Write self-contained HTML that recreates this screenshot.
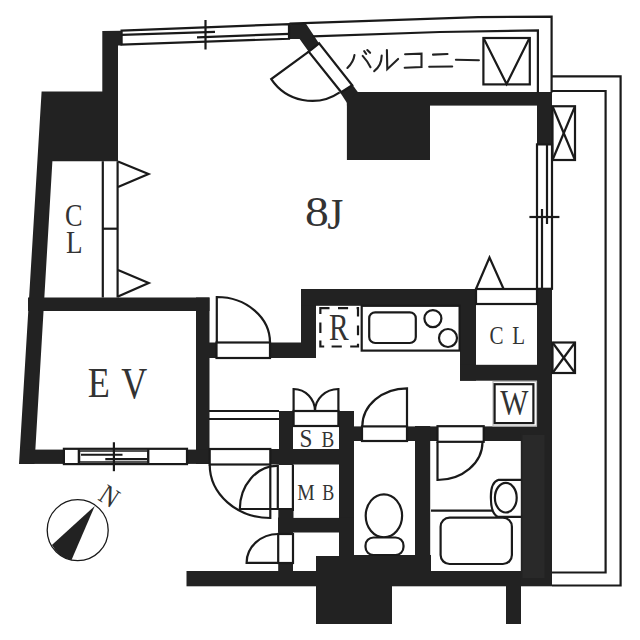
<!DOCTYPE html>
<html><head><meta charset="utf-8">
<style>
html,body{margin:0;padding:0;background:#fff;}
svg{display:block;}
text{font-family:"Liberation Serif",serif;fill:#333;}
</style></head>
<body>
<svg width="640" height="640" viewBox="0 0 640 640">
<rect x="0" y="0" width="640" height="640" fill="#fff"/>
<g fill="#222" stroke="none">
 <!-- top-left column and block -->
 <polygon points="102.3,31 121.6,30.7 121.6,45.4 118,45.4 118,161.2 52.39,161.2 34.5,463.9 19,463.9 41.6,91.4 102.3,91.4"/>
 <!-- closet bottom / EV top -->
 <rect x="28" y="297.5" width="181.5" height="13.5"/>
 <!-- EV right wall -->
 <rect x="196" y="297.5" width="13.5" height="166.5"/>
 <!-- EV bottom wall -->
 <rect x="25" y="449.6" width="184.7" height="14.3"/>
 <!-- kitchen bottom-left wall -->
 <rect x="209" y="342.5" width="107" height="15.5"/>
 <!-- kitchen left wall -->
 <rect x="301" y="289" width="15" height="69"/>
 <!-- kitchen top wall -->
 <rect x="301" y="289" width="175" height="16.8"/>
 <!-- closet left wall -->
 <rect x="460" y="289" width="16" height="91.7"/>
 <!-- closet bottom wall -->
 <rect x="460" y="364.8" width="92" height="15.9"/>
 <!-- right main wall -->
 <rect x="537" y="289" width="15" height="296"/>
 <!-- top wall -->
 <rect x="346.9" y="92" width="205.1" height="13.6"/>
 <rect x="346.9" y="92" width="83.1" height="68"/>
 <rect x="537" y="92.6" width="15" height="51.8"/>
 <!-- diagonal wall pieces -->
 <polygon points="289.1,24.2 305.5,23.1 319.1,43.4 308.75,51.7 299.6,38.9 289.1,38.9"/>
 <polygon points="340.3,92.8 351.9,84.1 357.8,92 347,103"/>
 <!-- toilet top wall -->
 <rect x="339" y="426.4" width="198" height="14.6"/>
 <!-- SB walls -->
 <rect x="279" y="411" width="14" height="54"/>
 <rect x="339" y="411" width="15" height="145"/>
 <rect x="270" y="449" width="84" height="15.5"/>
 <!-- MB bottom wall & piece below -->
 <rect x="278" y="517.9" width="76" height="14.6"/>
 <rect x="278.3" y="509.8" width="15.2" height="10"/>
 <rect x="278.2" y="517.5" width="14.8" height="54"/>
 <!-- bottom wall -->
 <rect x="186.5" y="571" width="365.5" height="15.3"/>
 <rect x="316" y="556" width="76" height="68"/>
 <rect x="339" y="555" width="92" height="16"/>
 <rect x="415" y="426" width="15.2" height="145"/>
 <rect x="506" y="585" width="15" height="39"/>
 <rect x="520.8" y="433" width="31.2" height="152.5"/>
 <rect x="522.5" y="435" width="22" height="143" fill="#292929"/>
</g>

<g fill="#fff" stroke="#1a1a1a" stroke-width="2.2">
 <!-- top window -->
 <polygon points="121.6,30.6 289,24.1 289,38.8 121.6,44.6" />
 <!-- EV window -->
 <rect x="63.9" y="448.8" width="123.1" height="15.3"/>
 <!-- door sills -->
 <rect x="216.5" y="342.5" width="53.5" height="15.5"/>
 <rect x="476" y="289" width="61" height="15"/>
 <rect x="293.6" y="411" width="44.8" height="15"/>
 <rect x="362" y="426.4" width="45" height="14.6"/>
 <rect x="437.5" y="426.2" width="46.2" height="15.6"/>
 <rect x="209.7" y="449" width="60.6" height="15.5"/>
 <rect x="278.2" y="534" width="14.8" height="29"/>
 <!-- diagonal sill -->
 <polygon points="308.75,51.7 319.1,43.4 352.2,85.3 341.25,92.3"/>
 <!-- right window -->
 <rect x="537" y="144.4" width="15" height="144.4"/>
</g>

<g fill="none" stroke="#1a1a1a" stroke-width="2.2">
 <!-- top window inner lines -->
 <line x1="121.6" y1="34.9" x2="215" y2="31.9"/>
 <line x1="197" y1="37.3" x2="289.5" y2="33.9"/>
 <line x1="205.5" y1="20" x2="205.5" y2="49.5"/>
 <!-- balcony lines -->
 <polyline points="289.5,23.6 478,17.2 551.6,16.6 551.6,92.6"/>
 <polyline points="312.5,36.3 440,32 537.9,30.4 537.9,92.6"/>
 <polyline points="551.6,76.3 620.6,76.3 620.6,585.5 552,585.5"/>
 <polyline points="551.6,91 605.6,91 605.6,572.5 552,572.5"/>
 <!-- AC unit -->
 <rect x="483.4" y="38" width="46.4" height="46.4"/>
 <polyline points="484,39 506.6,84 529,39"/>
 <!-- X boxes -->
 <rect x="552.5" y="106.25" width="22.5" height="53.75"/>
 <line x1="552.5" y1="106.25" x2="575" y2="160"/>
 <line x1="575" y1="106.25" x2="552.5" y2="160"/>
 <rect x="552.5" y="342.5" width="22.5" height="30.5"/>
 <line x1="552.5" y1="342.5" x2="575" y2="373"/>
 <line x1="575" y1="342.5" x2="552.5" y2="373"/>
 <!-- right window inner -->
 <line x1="547" y1="144.4" x2="547" y2="224"/>
 <line x1="542" y1="209" x2="542" y2="288.8"/>
 <line x1="529.4" y1="217" x2="559.4" y2="217"/>
 <!-- diagonal door -->
 <path d="M308.75,51.7 L271.25,79.06 A49,49 0 0 0 339.7,92.3"/>
 <!-- left closet -->
 <line x1="102.8" y1="161.2" x2="102.8" y2="297.5"/>
 <line x1="117.6" y1="161.2" x2="117.6" y2="297.5"/>
 <line x1="102.8" y1="228.7" x2="117.6" y2="228.7"/>
 <polyline points="118,161.5 148.5,174 118,187"/>
 <polyline points="118,270 148.7,283 118,296.5"/>
 <!-- door 8J -> corridor -->
 <path d="M216.8,343 L216.8,297 A53.2,45.5 0 0 1 270,342.5"/>
 <!-- EV window inner -->
 <line x1="78.8" y1="449" x2="78.8" y2="464.5"/>
 <line x1="148.3" y1="449" x2="148.3" y2="464.5"/>
 <rect x="79.5" y="451" width="68.5" height="11" stroke-width="1.5"/>
 <line x1="81" y1="454.75" x2="122.5" y2="454.75"/>
 <line x1="105.3" y1="459.1" x2="147.5" y2="459.1"/>
 <line x1="113.9" y1="442.25" x2="113.9" y2="471.2"/>
 <!-- closet triangle (right) -->
 <polyline points="476,289 489.5,257.5 503.6,289"/>
 <!-- corridor lines -->
 <line x1="209" y1="411" x2="279" y2="411"/>
 <line x1="209" y1="419" x2="279" y2="419"/>
 <!-- SB doors -->
 <path d="M293.6,411 L293.6,389 A21.4,22 0 0 1 315,411"/>
 <path d="M338.4,411 L338.4,389 A23.4,22 0 0 0 315,411"/>
 <!-- MB door -->
 <path d="M209.7,464.5 A60.6,53.5 0 0 0 270.3,518 L270.3,465"/>
 <path d="M277,465.8 A37.2,43.7 0 0 0 239.8,509 L292.8,509"/>
 <line x1="277.8" y1="464.5" x2="277.8" y2="509"/>
 <line x1="292.9" y1="464.5" x2="292.9" y2="511"/>
 <!-- bottom small door -->
 <path d="M278.2,534 A31.6,28.8 0 0 0 246.6,562.8 L278.2,562.8"/>
 <!-- toilet door -->
 <path d="M362.3,426.4 A44.7,38.1 0 0 1 407,388.3 L407,426.4"/>
 <!-- bath door -->
 <path d="M437.5,441.9 L437.5,480 A45,38.1 0 0 0 482.5,441.9"/>
 <!-- kitchen -->
 <path d="M320.35,314.1 V308.2 H329.5 M338,308.2 H348.1 M356.6,308.2 H358 V316.6 M358,325.4 V335.2 M358,343.7 V346.5 H350.2 M341.8,346.5 H331.6 M324.2,346.5 H320.35 V340.5 M320.35,333.1 V322.6"/>
 <rect x="361.7" y="305.8" width="97.9" height="44.8"/>
 <rect x="369.2" y="312.3" width="46.6" height="30.7" rx="6"/>
 <circle cx="432.9" cy="318.6" r="8.5"/>
 <circle cx="448" cy="338" r="9"/>
 <!-- W box -->
 <rect x="493" y="381.5" width="43.5" height="44.5" stroke="#bbb" stroke-width="1.2"/>
 <rect x="494.6" y="384.2" width="38.8" height="38.9"/>
 <!-- toilet -->
 <ellipse cx="383.9" cy="515.8" rx="18.2" ry="21.5"/>
 <rect x="365.5" y="537.5" width="38" height="17.5" rx="8" fill="#fff"/>
 <!-- bath -->
 <polyline points="431,510.6 492,510.6"/>
 <rect x="440.6" y="517.7" width="71.3" height="46.3" rx="9"/>
 <path d="M521.4,479.8 L498.75,479.8 Q490.5,482 490.9,498 Q491,514 498,516.9 L521.4,516.9"/>
 <ellipse cx="505.8" cy="497.7" rx="10.9" ry="14.8"/>
 <!-- compass -->
 <circle cx="77.7" cy="530.2" r="30.5" stroke-width="1.3"/>
</g>
<!-- compass needle -->
<path d="M94.8,505.9 L51.9,545 A30.5,30.5 0 0 0 71.4,560.3 Z" fill="#222"/>
<text transform="translate(97.0,499.3) rotate(33) scale(0.86,1)" font-size="28" fill="#222" style="font-family:'Liberation Serif',serif">N</text>

<!-- texts -->
<g fill="#222">
<text fill="#2a2a2a" transform="translate(305.1,225.87) scale(1.112,1)" font-size="42.81">8</text>
<text fill="#2a2a2a" transform="translate(327.25,229.3) scale(0.95,1)" font-size="43.5">J</text>
<text fill="#444" transform="translate(64.95,226.38) scale(0.82,1)" font-size="32.09">C</text>
<text fill="#444" transform="translate(66.09,253.4) scale(0.835,1)" font-size="32.46">L</text>
<text fill="#2a2a2a" transform="translate(87.81,397.2) scale(0.85,1)" font-size="42.6">E</text>
<text fill="#2a2a2a" transform="translate(121.34,397.65) scale(0.826,1)" font-size="43.61">V</text>
<text fill="#2a2a2a" transform="translate(328.92,339.8) scale(0.788,1)" font-size="37.38">R</text>
<text fill="#444" transform="translate(489.56,343.85) scale(0.855,1)" font-size="24.63">C</text>
<text fill="#444" transform="translate(512.27,343.75) scale(0.865,1)" font-size="24.23">L</text>
<text fill="#2a2a2a" transform="translate(500.2,415.25) scale(0.812,1)" font-size="36.69">W</text>
<text fill="#444" transform="translate(299.39,446.66) scale(0.956,1)" font-size="24.33">S</text>
<text fill="#444" transform="translate(321.53,446.5) scale(0.823,1)" font-size="23.28">B</text>
<text fill="#444" transform="translate(297.16,500.0) scale(0.816,1)" font-size="24.0">M</text>
<text fill="#444" transform="translate(322.21,500.0) scale(0.775,1)" font-size="23.28">B</text>
</g>

<!-- katakana -->
<g fill="none" stroke="#222" stroke-width="2.1" stroke-linecap="round">
 <path d="M354.45,55.1 Q353.5,62 347.4,68"/>
 <path d="M362.65,55.9 Q367,60.5 370.5,67.25"/>
 <path d="M364.2,51.2 L366.2,54 M367.3,50.1 L370.1,52.8"/>
 <path d="M381.7,55.6 Q381.5,66 374.2,71.1"/>
 <path d="M386.9,50 L387.3,69.2 L398.1,58.9"/>
 <path d="M405.1,54.2 L421.5,53.7 L421.5,67.1 L404.7,67.8"/>
 <path d="M433,54.65 L447.5,54 M429.2,66.8 L452.2,66.5"/>
 <path d="M455.9,59.8 L478.9,60.3"/>
</g>
</svg>
</body></html>
